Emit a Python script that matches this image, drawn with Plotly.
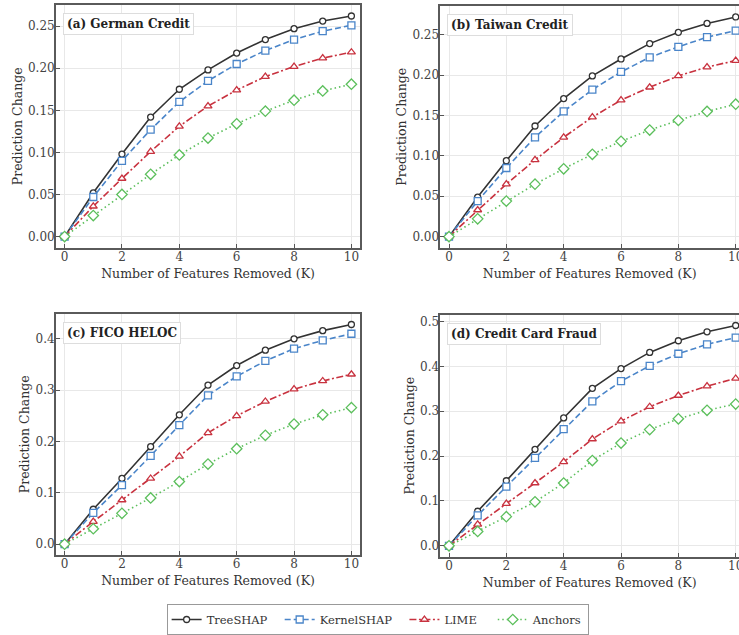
import plotly.graph_objects as go

K = list(range(11))

methods = ["TreeSHAP", "KernelSHAP", "LIME", "Anchors"]

panel_titles = ["(a) German Credit", "(b) Taiwan Credit", "(c) FICO HELOC", "(d) Credit Card Fraud"]

german_treeshap   = [0, 0.052, 0.098, 0.142, 0.175, 0.198, 0.218, 0.234, 0.247, 0.256, 0.262]
german_kernelshap = [0, 0.047, 0.090, 0.127, 0.160, 0.185, 0.205, 0.221, 0.234, 0.244, 0.251]
german_lime       = [0, 0.036, 0.069, 0.101, 0.131, 0.155, 0.174, 0.190, 0.202, 0.212, 0.219]
german_anchors    = [0, 0.025, 0.050, 0.074, 0.097, 0.117, 0.134, 0.149, 0.162, 0.173, 0.181]

taiwan_treeshap   = [0, 0.049, 0.094, 0.137, 0.171, 0.199, 0.220, 0.239, 0.253, 0.264, 0.272]
taiwan_kernelshap = [0, 0.044, 0.085, 0.123, 0.155, 0.182, 0.204, 0.222, 0.235, 0.247, 0.255]
taiwan_lime       = [0, 0.033, 0.065, 0.095, 0.123, 0.148, 0.169, 0.185, 0.199, 0.210, 0.218]
taiwan_anchors    = [0, 0.022, 0.044, 0.065, 0.084, 0.102, 0.118, 0.132, 0.144, 0.155, 0.164]

fico_treeshap   = [0, 0.068, 0.128, 0.190, 0.252, 0.310, 0.348, 0.378, 0.400, 0.416, 0.428]
fico_kernelshap = [0, 0.061, 0.115, 0.172, 0.232, 0.290, 0.327, 0.357, 0.381, 0.397, 0.410]
fico_lime       = [0, 0.044, 0.086, 0.128, 0.171, 0.217, 0.250, 0.278, 0.302, 0.318, 0.331]
fico_anchors    = [0, 0.030, 0.060, 0.090, 0.122, 0.156, 0.186, 0.212, 0.234, 0.252, 0.266]

fraud_treeshap   = [0, 0.077, 0.145, 0.215, 0.285, 0.351, 0.395, 0.431, 0.457, 0.477, 0.491]
fraud_kernelshap = [0, 0.068, 0.132, 0.196, 0.260, 0.322, 0.367, 0.401, 0.428, 0.449, 0.464]
fraud_lime       = [0, 0.048, 0.094, 0.140, 0.187, 0.238, 0.278, 0.310, 0.335, 0.356, 0.373]
fraud_anchors    = [0, 0.032, 0.065, 0.098, 0.140, 0.190, 0.229, 0.259, 0.283, 0.302, 0.316]

panels = [
    [german_treeshap, german_kernelshap, german_lime, german_anchors],
    [taiwan_treeshap, taiwan_kernelshap, taiwan_lime, taiwan_anchors],
    [fico_treeshap, fico_kernelshap, fico_lime, fico_anchors],
    [fraud_treeshap, fraud_kernelshap, fraud_lime, fraud_anchors],
]

colors = ["#333333", "#4a85c9", "#c8323f", "#5cbf5c"]
dashes = ["solid", "6px,3px", "7px,2.5px,2px,2.5px", "1.5px,3px"]
symbols = ["circle", "square", "triangle-up", "diamond"]
msizes = [6, 7, 7, 8]
NB = "\u00a0"
legend_pad = [NB * 2, NB * 2, NB * 3, ""]

W, H = 739, 635
FONT = "DejaVu Serif"

# pixel boxes (left, right, top, bottom)
boxes = [
    (56, 360, 5, 248),
    (440.4, 739, 6, 248),
    (56, 360, 314, 556),
    (440.4, 739, 315, 557.7),
]
xranges = [[-0.3, 10.3], [-0.3, 10.115], [-0.3, 10.3], [-0.3, 10.115]]
yranges = [[-0.0131, 0.2751], [-0.0136, 0.2856], [-0.0214, 0.4494], [-0.0245, 0.5155]]
ydticks = [0.05, 0.05, 0.1, 0.1]
yfmts = [".2f", ".2f", ".1f", ".1f"]

fig = go.Figure()

for p, series in enumerate(panels):
    ax = "" if p == 0 else str(p + 1)
    for m, vals in enumerate(series):
        fig.add_trace(go.Scatter(
            x=K, y=vals, name=methods[m] + legend_pad[m], mode="lines+markers",
            xaxis="x" + ax, yaxis="y" + ax,
            showlegend=(p == 0), legendgroup=methods[m], cliponaxis=False,
            line=dict(color=colors[m], width=1.6, dash=dashes[m]),
            marker=dict(symbol=symbols[m], size=msizes[m], color="white",
                        line=dict(color=colors[m], width=1.3)),
        ))

layout = dict(
    width=W, height=H, margin=dict(l=0, r=0, t=0, b=0),
    paper_bgcolor="white", plot_bgcolor="white",
    font=dict(family=FONT, size=12, color="#444444"),
    showlegend=True,
    legend=dict(orientation="h", x=0.511, y=(H - 620) / H, xanchor="center", yanchor="middle",
                bordercolor="#999999", borderwidth=1, bgcolor="white",
                font=dict(family=FONT, size=11.5, color="#333333"),
                itemwidth=30, tracegroupgap=0),
)

annotations = []
for p in range(4):
    l, r, t, b = boxes[p]
    ax = "" if p == 0 else str(p + 1)
    right = p in (0, 2)
    layout["xaxis" + ax] = dict(
        domain=[l / W, r / W], range=xranges[p], anchor="y" + ax, automargin=False,
        dtick=2, tick0=0, ticks="inside", ticklen=4, tickwidth=1, tickcolor="#555555",
        ticklabeloverflow="allow", ticklabelstandoff=-3,
        showline=True, linecolor="#5a5a5a", linewidth=1.8, mirror=True,
        showgrid=True, gridcolor="#e8e8e8", gridwidth=0.8, zeroline=False,
        tickfont=dict(family=FONT, size=12, color="#444444"),
        title=dict(text="Number of Features Removed (K)", standoff=6,
                   font=dict(family=FONT, size=12.5, color="#333333")),
    )
    layout["yaxis" + ax] = dict(
        domain=[(H - b) / H, (H - t) / H], range=yranges[p], anchor="x" + ax, automargin=False,
        dtick=ydticks[p], tick0=0, tickformat=yfmts[p],
        ticks="inside", ticklen=4, tickwidth=1, tickcolor="#555555",
        ticklabeloverflow="allow", ticklabelstandoff=-3,
        showline=True, linecolor="#5a5a5a", linewidth=1.8, mirror=right,
        showgrid=True, gridcolor="#e8e8e8", gridwidth=0.8, zeroline=False,
        tickfont=dict(family=FONT, size=12, color="#444444"),
        title=dict(text="Prediction Change", standoff=3,
                   font=dict(family=FONT, size=12.5, color="#333333")),
    )
    annotations.append(dict(
        text="<b>" + panel_titles[p] + "</b>", xref="x" + ax + " domain", yref="y" + ax + " domain",
        x=0.022, y=0.965, xanchor="left", yanchor="top", showarrow=False,
        font=dict(family=FONT, size=12, color="#222222"),
        bgcolor="white", bordercolor="#dddddd", borderwidth=1, borderpad=3,
    ))

layout["annotations"] = annotations
fig.update_layout(**layout)
fig.write_html("out.html", config={"displayModeBar": False},
               post_script="document.body.style.margin='0';")
